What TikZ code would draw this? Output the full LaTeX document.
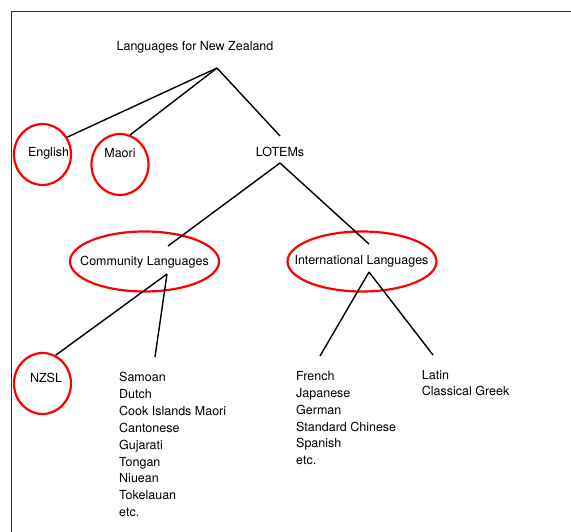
\documentclass[tikz,border=0pt]{standalone}
\usepackage{fontspec}
\setmainfont{TeX Gyre Heros}
\usetikzlibrary{shapes.geometric}
\begin{document}
\begin{tikzpicture}[x=1pt,y=-1pt,
  every node/.style={font=\fontsize{12.5}{16.9}\selectfont},
  ring/.style={draw=red,line width=2.2pt,ellipse,inner sep=0pt,minimum width=57pt,minimum height=61pt},
  bigring/.style={draw=red,line width=2.2pt,ellipse,inner sep=0pt,minimum width=149pt,minimum height=60pt},
  lbl/.style={inner sep=0pt},
  listbox/.style={inner sep=0pt,align=left,anchor=north west},
  conn/.style={line width=1.4pt,black}]
\useasboundingbox (0,0) rectangle (571,532);
% frame (top and left only)
\draw[line width=1pt,black!80] (571,12) -- (11,12) -- (11,532);
% title
\node[lbl] (title) at (195,47) {Languages for New Zealand};
\coordinate (apex) at (217,68);
% first level
\node[ring] (english) at (42.5,154.5) {};
\node[lbl] (englishtxt) at (48.5,153) {English};
\node[ring] (maori) at (120,164.5) {};
\node[lbl] (maoritxt) at (120,153) {Maori};
\node[lbl] (lotems) at (280,152) {LOTEMs};
\coordinate (lotemtop) at (280,136);
\coordinate (lotembot) at (280,163);
\draw[conn] (apex) -- (english.35.5);
\draw[conn] (apex) -- (maori.71);
\draw[conn] (apex) -- (lotemtop);
% second level
\node[bigring] (community) at (144.5,261.5) {};
\node[lbl] (communitytxt) at (144.5,262) {Community Languages};
\node[bigring] (international) at (362,261.5) {};
\node[lbl] (internationaltxt) at (361.5,261) {International Languages};
\coordinate (commtop) at (168,246);
\coordinate (inttop) at (369,244);
\coordinate (commbot) at (167,274);
\coordinate (intbot) at (369,272);
\draw[conn] (lotembot) -- (commtop);
\draw[conn] (lotembot) -- (inttop);
% third level
\node[ring] (nzsl) at (42.5,383.5) {};
\node[lbl] (nzsltxt) at (46,378) {NZSL};
\coordinate (commlisttop) at (155,357);
\coordinate (frenchtop) at (320,356);
\coordinate (latintop) at (433,355);
\node[listbox] (commlist) at (119,372) {Samoan\\Dutch\\Cook Islands Maori\\Cantonese\\Gujarati\\Tongan\\Niuean\\Tokelauan\\etc.};
\node[listbox] (intlist) at (296,371) {French\\Japanese\\German\\Standard Chinese\\Spanish\\etc.};
\node[listbox,font=\fontsize{12.5}{15.9}\selectfont] (classlist) at (421.7,370.5) {Latin\\Classical Greek};
\draw[conn] (commbot) -- (nzsl.65.6);
\draw[conn] (commbot) -- (commlisttop);
\draw[conn] (intbot) -- (frenchtop);
\draw[conn] (intbot) -- (latintop);
\end{tikzpicture}
\end{document}
